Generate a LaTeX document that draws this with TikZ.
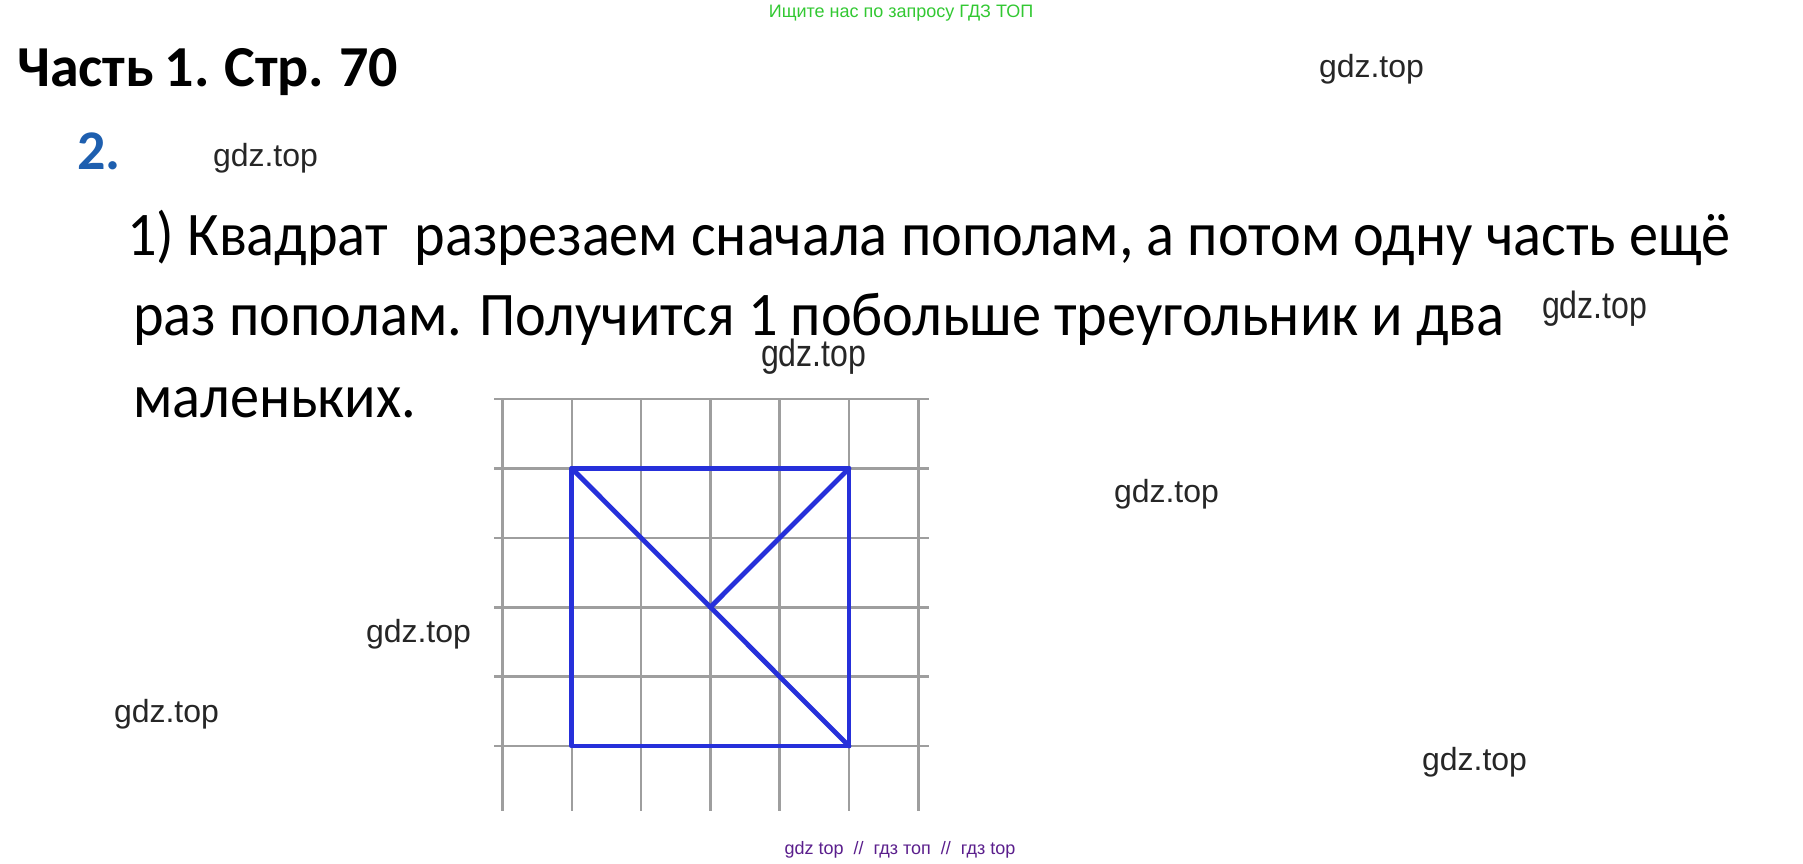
\documentclass[tikz,border=0pt]{standalone}
\usepackage{fontspec}
\setmainfont{Carlito}
\newfontfamily\wm{Liberation Sans}
\definecolor{gridgray}{RGB}{158,158,158}
\definecolor{sqblue}{RGB}{38,48,218}
\definecolor{numblue}{RGB}{30,95,175}
\definecolor{topgreen}{RGB}{50,200,50}
\definecolor{botpurple}{RGB}{90,30,140}
\tikzset{
  txt/.style={anchor=base west,inner sep=0pt,outer sep=0pt},
  wmark/.style={txt,font=\wm\fontsize{32}{32}\selectfont,text=black!85},
  wmnarrow/.style={txt,font=\wm\fontsize{38}{38}\selectfont,text=black!85},
  body/.style={txt,font=\fontsize{62}{62}\selectfont},
  gridline/.style={draw=gridgray,line width=2.6pt},
  cutline/.style={draw=sqblue,line width=4.8pt,line cap=round,line join=round}
}
\begin{document}
\begin{tikzpicture}[x=1pt,y=-1pt]
\useasboundingbox (0,0) rectangle (1803,863);
% header texts
\node[anchor=base,inner sep=0pt,font=\wm\fontsize{18}{18}\selectfont,text=topgreen] (top) at (901,17) {Ищите нас по запросу ГДЗ ТОП};
\node[txt,font=\bfseries\fontsize{58}{58}\selectfont] (title) at (17,86) {\spaceskip=0.18em plus 0.05em Часть 1. Стр. 70};
\node[txt,font=\bfseries\fontsize{56}{56}\selectfont,text=numblue] (num) at (77,169) {2.};
% body
\node[body] (l1) at (127,255) {\scalebox{0.94}[1]{1) Квадрат\ \ разрезаем сначала пополам, а потом одну часть ещё}};
\node[body] (l2) at (133,335) {\scalebox{0.94}[1]{раз пополам. Получится 1 побольше треугольник и два}};
\node[body] (l3) at (133,417) {\scalebox{0.94}[1]{маленьких.}};
% grid
\foreach \i in {0,...,6} {
  \draw[gridline] (502.5+69.3*\i,399) -- (502.5+69.3*\i,811);
}
\foreach \j in {0,...,5} {
  \draw[gridline] (494,399+69.4*\j) -- (929,399+69.4*\j);
}
% square with cuts
\coordinate (A) at (571.8,468.4);
\coordinate (B) at (849,468.4);
\coordinate (C) at (849,746);
\coordinate (D) at (571.8,746);
\coordinate (O) at (710.4,607.2);
\draw[cutline] (A) -- (B) -- (C) -- (D) -- cycle;
\draw[cutline] (A) -- (C);
\draw[cutline] (B) -- (O);
% watermarks
\node[wmark] (w1) at (1319,77) {gdz.top};
\node[wmark] (w2) at (213,166) {gdz.top};
\node[wmnarrow] (w3) at (1542,318) {\scalebox{0.845}[1]{gdz.top}};
\node[wmnarrow] (w4) at (761,366) {\scalebox{0.845}[1]{gdz.top}};
\node[wmark] (w5) at (1114,502) {gdz.top};
\node[wmark] (w6) at (366,642) {gdz.top};
\node[wmark] (w7) at (114,722) {gdz.top};
\node[wmark] (w8) at (1422,770) {gdz.top};
% footer
\node[anchor=base,inner sep=0pt,font=\wm\fontsize{18}{18}\selectfont,text=botpurple] (bot) at (900,854) {gdz top\ \ //\ \ гдз топ\ \ //\ \ гдз top};
\end{tikzpicture}
\end{document}
